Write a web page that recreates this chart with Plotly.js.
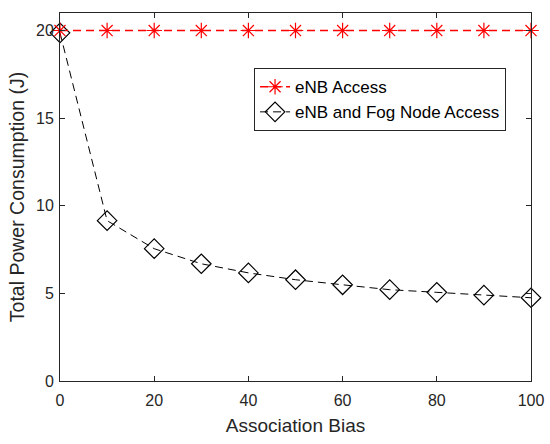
<!DOCTYPE html>
<html>
<head>
<meta charset="utf-8">
<script src="https://cdn.plot.ly/plotly-3.0.1.min.js"></script>
<style>html,body{margin:0;padding:0;background:#fff;}#chart{width:550px;height:444px;}</style>
</head>
<body>
<div id="chart"></div>
<script>
const associationBias = [0, 10, 20, 30, 40, 50, 60, 70, 80, 90, 100];
const enbAccess = [20, 20, 20, 20, 20, 20, 20, 20, 20, 20, 20];
const enbFogAccess = [19.87, 9.15, 7.55, 6.69, 6.17, 5.78, 5.49, 5.21, 5.06, 4.90, 4.75];
const seriesNames = ["eNB Access", "eNB and Fog Node Access"];
const xTicks = [0, 20, 40, 60, 80, 100];
const yTicks = [0, 5, 10, 15, 20];

const FONT = "Liberation Sans, Arial, Helvetica, sans-serif";
const AX = "#262626";

const traces = [
  {
    x: associationBias, y: enbFogAccess, name: seriesNames[1], type: "scatter", mode: "lines+markers",
    line: {color: "#000000", width: 1, dash: "8px,5px"},
    marker: {symbol: "diamond-open", size: 15, color: "#000000", line: {color: "#000000", width: 1.2}},
    cliponaxis: false, legendrank: 2
  },
  {
    x: associationBias, y: enbAccess, name: seriesNames[0], type: "scatter", mode: "lines+markers",
    line: {color: "#ff0000", width: 1.6, dash: "8px,5px"},
    marker: {symbol: "asterisk-open", size: 13, color: "#ff0000", line: {color: "#ff0000", width: 1.2}},
    cliponaxis: false, legendrank: 1
  }
];

const layout = {
  width: 550, height: 444,
  margin: {l: 60, r: 19, t: 13, b: 63, pad: 0},
  paper_bgcolor: "#ffffff", plot_bgcolor: "#ffffff",
  font: {family: FONT, color: AX, size: 16},
  showlegend: true,
  legend: {
    x: 0.412, y: 0.85, xanchor: "left", yanchor: "top",
    bgcolor: "#ffffff", bordercolor: AX, borderwidth: 1,
    font: {family: FONT, size: 17, color: "#000000"},
    tracegroupgap: 0
  },
  xaxis: {
    range: [0, 100], tickvals: xTicks, ticktext: xTicks.map(String),
    showgrid: false, zeroline: false,
    showline: true, linecolor: AX, linewidth: 1, mirror: "ticks",
    ticks: "inside", ticklen: 5, tickcolor: AX, tickwidth: 1,
    ticklabelstandoff: 5,
    tickfont: {family: FONT, size: 16, color: AX},
    title: {text: "Association Bias", font: {family: FONT, size: 19, color: AX}, standoff: 10}
  },
  yaxis: {
    range: [0, 21], tickvals: yTicks, ticktext: yTicks.map(String),
    showgrid: false, zeroline: false,
    showline: true, linecolor: AX, linewidth: 1, mirror: "ticks",
    ticks: "inside", ticklen: 5, tickcolor: AX, tickwidth: 1,
    ticklabelstandoff: 2,
    tickfont: {family: FONT, size: 16, color: AX},
    title: {text: "Total Power Consumption (J)", font: {family: FONT, size: 19.5, color: AX}, standoff: 6}
  }
};

Plotly.newPlot("chart", traces, layout, {staticPlot: true, displayModeBar: false});
</script>
</body>
</html>
